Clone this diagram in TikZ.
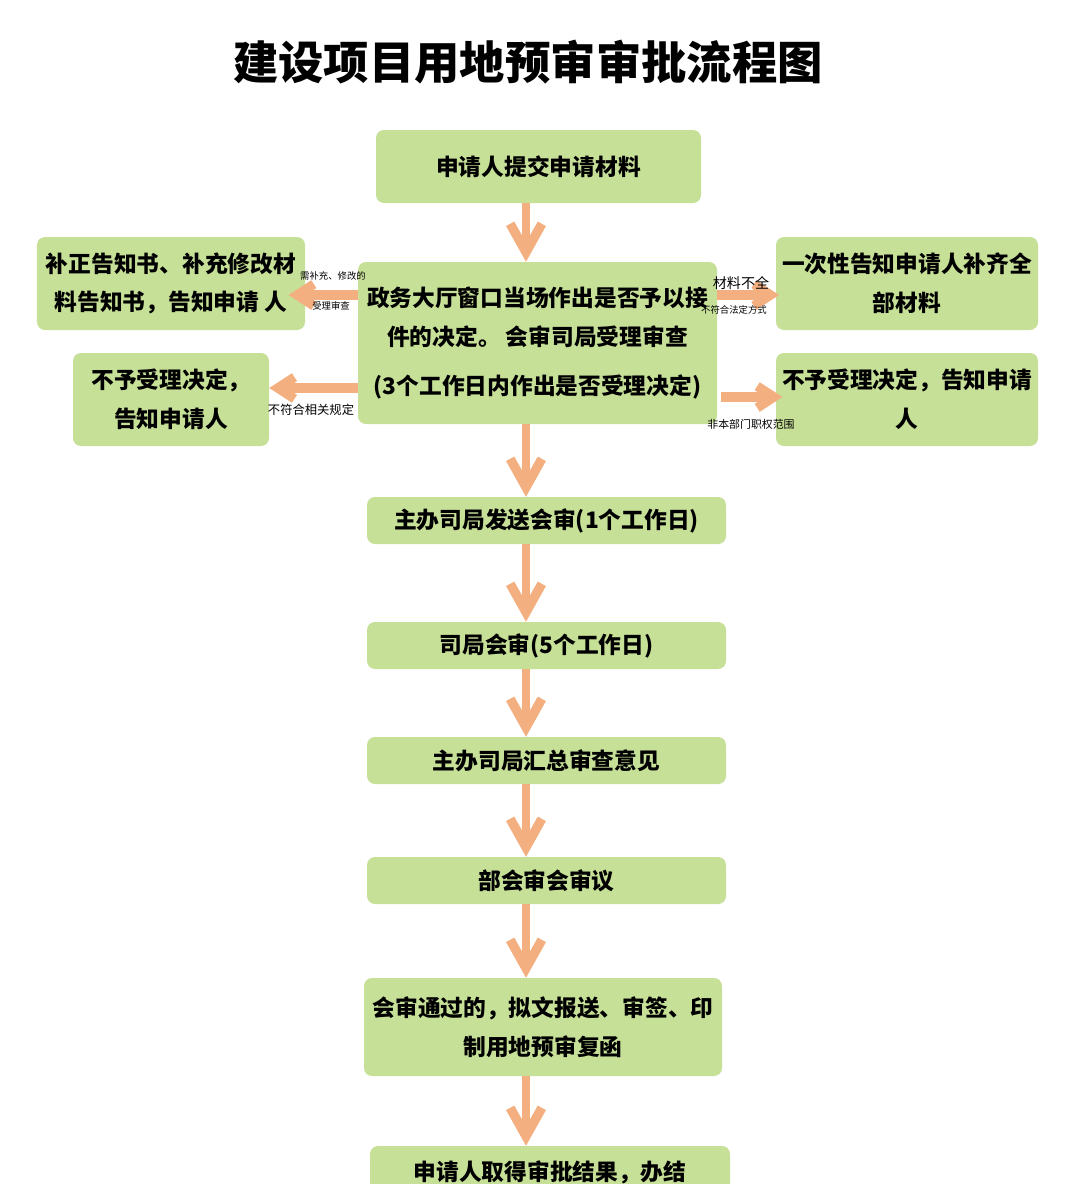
\documentclass[tikz,border=0pt]{standalone}
\usepackage{fontspec}
\setmainfont{Noto Sans CJK SC}
\usetikzlibrary{arrows.meta}
\definecolor{boxgreen}{RGB}{199,224,152}
\definecolor{arrowpeach}{RGB}{243,175,128}

\tikzset{
  stepbox/.style={fill=boxgreen, rounded corners=2.4mm, inner sep=0pt, align=center,
    font=\bfseries\fontsize{19.4}{33}\selectfont},
  downarrow/.style={draw=arrowpeach, line width=7pt,
    -{Straight Barb[length=8.5mm,width=9.5mm,line width=8pt]}},
  sidearrow/.style={draw=arrowpeach, line width=8pt,
    -{Straight Barb[length=5mm,width=6.5mm,line width=8pt]}},
  note/.style={inner sep=0pt}
}

\begin{document}
\begin{tikzpicture}[x=0.3mm,y=-0.3mm]
\useasboundingbox (0,0) rectangle (1080,1184);
\clip (0,0) rectangle (1080,1184);

\node (title) at (528,62) {\bfseries\fontsize{38.7}{40}\selectfont 建设项目用地预审审批流程图};

% main column
\node[stepbox, minimum width=97.5mm, minimum height=21.9mm] (apply) at (538.5,166.5) {申请人提交申请材料};
\node[stepbox, minimum width=107.7mm, minimum height=48.6mm] (window) at (537.5,343)
  {政务大厅窗口当场作出是否予以接\\件的决定。 会审司局受理审查\\[8.7pt](3个工作日内作出是否受理决定)};
\node[stepbox, minimum width=107.7mm, minimum height=14.1mm] (send) at (546.5,520.5) {主办司局发送会审(1个工作日)};
\node[stepbox, minimum width=107.7mm, minimum height=14.1mm] (review) at (546.5,645.5) {司局会审(5个工作日)};
\node[stepbox, minimum width=107.7mm, minimum height=14.1mm] (collect) at (546.5,760.5) {主办司局汇总审查意见};
\node[stepbox, minimum width=107.7mm, minimum height=14.1mm] (meeting) at (546.5,880.5) {部会审会审议};
\node[stepbox, minimum width=107.4mm, minimum height=29.4mm] (issue) at (543,1027)
  {会审通过的，拟文报送、审签、印\\制用地预审复函};
\node[stepbox, minimum width=108mm, minimum height=15.6mm] (result) at (550,1172) {申请人取得审批结果，办结};

% side boxes
\node[stepbox, minimum width=80.4mm, minimum height=27.9mm] (amend) at (171,283.5)
  {补正告知书、补充修改材\\料告知书，告知申请 人};
\node[stepbox, minimum width=58.8mm, minimum height=27.9mm] (rejectl) at (171,399.5)
  {不予受理决定，\\告知申请人};
\node[stepbox, minimum width=78.6mm, minimum height=27.9mm] (notify) at (907,283.5)
  {一次性告知申请人补齐全\\部材料};
\node[stepbox, minimum width=78.6mm, minimum height=27.9mm] (rejectr) at (907,399.5)
  {不予受理决定，告知申请\\人};

% arrows
\coordinate (ax) at (526,0);
\draw[downarrow] (apply.south -| ax) -- (window.north -| ax);
\draw[downarrow] (window.south -| ax) -- (send.north -| ax);
\draw[downarrow] (send.south -| ax) -- (review.north -| ax);
\draw[downarrow] (review.south -| ax) -- (collect.north -| ax);
\draw[downarrow] (collect.south -| ax) -- (meeting.north -| ax);
\draw[downarrow] (meeting.south -| ax) -- (issue.north -| ax);
\draw[downarrow] (issue.south -| ax) -- (result.north -| ax);

\draw[sidearrow] (window.west |- 0,295) -- ([xshift=-5mm]amend.east |- 0,295);
\draw[sidearrow] (window.west |- 0,388) -- (rejectl.east |- 0,388);
\draw[sidearrow] (window.east |- 0,295) -- ([xshift=1mm]notify.west |- 0,295);
\draw[sidearrow] ([xshift=1mm]window.east |- 0,397) -- ([xshift=2mm]rejectr.west |- 0,397);

% arrow labels
\node[note, font=\fontsize{8}{9}\selectfont] (lbl1) at (333,276) {需补充、修改的};
\node[note, font=\fontsize{8}{9}\selectfont] (lbl2) at (331,306) {受理审查};
\node[note, font=\fontsize{10.5}{12}\selectfont] (lbl3) at (311,410) {不符合相关规定};
\node[note, font=\fontsize{12}{13}\selectfont] (lbl4) at (741,283) {材料不全};
\node[note, font=\fontsize{8}{9}\selectfont] (lbl5) at (734,310) {不符合法定方式};
\node[note, font=\fontsize{9.3}{10}\selectfont] (lbl6) at (751,424) {非本部门职权范围};
\end{tikzpicture}
\end{document}
